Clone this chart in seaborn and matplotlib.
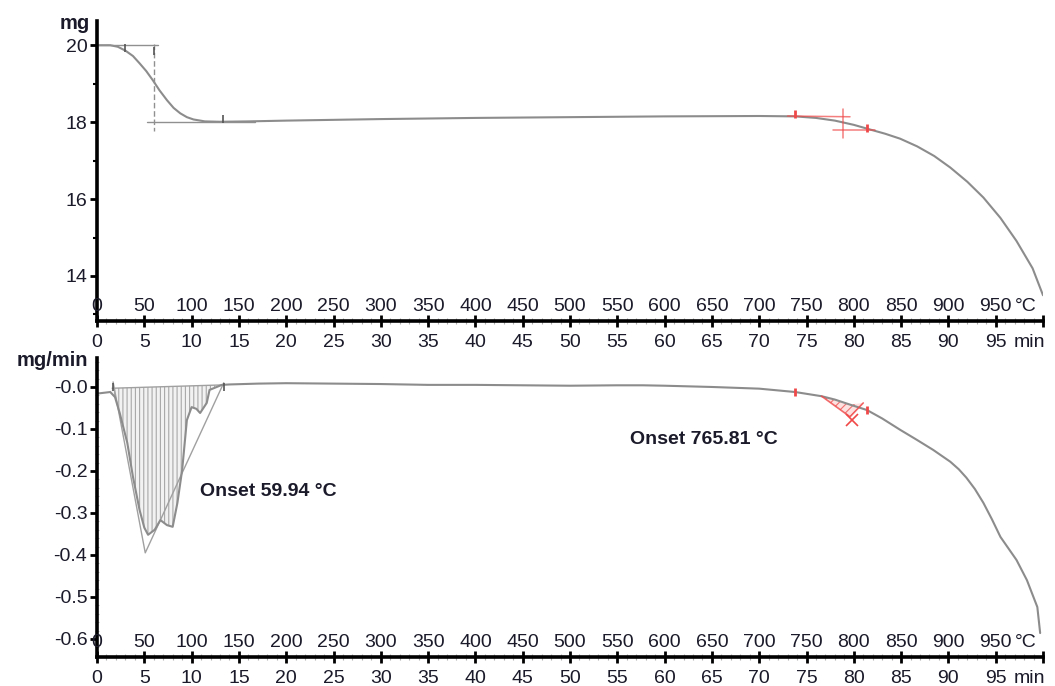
import numpy as np
import pandas as pd
import seaborn as sns
import matplotlib.pyplot as plt
from matplotlib.ticker import MultipleLocator

# TG curve (mg)
tg_time = [0, 1.4, 2.2, 3.0, 3.8, 4.5, 5.2, 5.9, 6.6, 7.4, 8.1, 8.8, 9.5, 10.2, 11.4, 13, 16, 20,
           30, 40, 50, 60, 70, 73.8, 76, 78, 80, 81.7, 83.3, 84.9, 86.7, 88.5, 90.2, 92, 93.7,
           95.5, 97.2, 98.9, 100]
tg_mass = [20.0, 20.0, 19.96, 19.86, 19.72, 19.53, 19.33, 19.09, 18.83, 18.57, 18.37, 18.23,
           18.13, 18.07, 18.02, 18.01, 18.02, 18.04, 18.08, 18.11, 18.13, 18.15, 18.16, 18.15,
           18.11, 18.04, 17.93, 17.81, 17.70, 17.57, 17.37, 17.12, 16.82, 16.45, 16.04, 15.51,
           14.91, 14.2, 13.5]

# DTG curve (mg/min)
dtg_time = [0, 0.3, 1.4, 1.9, 2.4, 3.2, 3.8, 4.5, 5.0, 5.4, 6.1, 6.7, 7.4, 8.0, 8.5, 9.0, 9.5,
            10.0, 10.5, 10.9, 11.6, 11.9, 13.2, 14, 17, 20, 25, 30, 35, 40, 45, 50, 55, 57.7,
            60, 65, 70, 73.8, 76.6, 78, 79.6, 81.4, 83, 84.9, 86.6, 88.4, 90.2, 91.1, 91.9,
            92.8, 93.7, 94.6, 95.5, 97.2, 98.3, 99.4, 99.7]
dtg_rate = [-0.015, -0.015, -0.012, -0.024, -0.062, -0.133, -0.214, -0.293, -0.335, -0.352,
            -0.34, -0.317, -0.329, -0.333, -0.276, -0.198, -0.079, -0.048, -0.052, -0.062,
            -0.038, -0.007, 0.005, 0.006, 0.008, 0.009, 0.008, 0.007, 0.005, 0.005, 0.004,
            0.003, 0.004, 0.004, 0.003, 0.0, -0.004, -0.012, -0.022, -0.03, -0.042, -0.055,
            -0.075, -0.102, -0.125, -0.15, -0.178, -0.196, -0.216, -0.243, -0.276, -0.315,
            -0.357, -0.412, -0.46, -0.524, -0.586]

time_ticks = list(range(0, 100, 5))
temp_labels = [str(t * 10) for t in time_ticks]
tg_ticks = [14, 16, 18, 20]
dtg_ticks = [-0.6, -0.5, -0.4, -0.3, -0.2, -0.1, 0.0]
dtg_ticklabels = ["-0.6", "-0.5", "-0.4", "-0.3", "-0.2", "-0.1", "-0.0"]

# evaluation marks
tg_step_t = [0, 6.4]
tg_step_v = [20.0, 20.0]
tg_mid_t = [6.0, 6.0]
tg_mid_v = [20.02, 17.78]
tg_end_t = [5.3, 16.7]
tg_end_v = [18.0, 18.0]
tg_marks_t = [3.0, 6.0, 13.3]
tg_marks_v = [19.93, 19.85, 18.08]

tg_red_a_t = [73.0, 79.6]
tg_red_a_v = [18.16, 18.14]
tg_red_b_t = [77.8, 82.2]
tg_red_b_v = [17.8, 17.8]
tg_red_c_t = [78.9, 78.9]
tg_red_c_v = [18.35, 17.6]
tg_red_marks_t = [73.8, 81.4]
tg_red_marks_v = [18.2, 17.86]

peak1_base_t = [1.6, 13.4]
peak1_base_v = [-0.003, 0.005]
peak1_tan_t = [1.7, 5.1, 13.4]
peak1_tan_v = [0.012, -0.395, 0.01]
peak1_marks_t = [1.7, 13.4]
peak1_marks_v = [0.0, 0.0]

peak2_tan_t = [76.6, 79.6, 81.0]
peak2_tan_v = [-0.022, -0.071, -0.038]
peak2_cross = (79.8, -0.079)
peak2_marks_t = [73.8, 81.4]
peak2_marks_v = [-0.012, -0.055]

onset1 = (10.9, -0.25, "Onset 59.94 °C")
onset2 = (56.3, -0.126, "Onset 765.81 °C")

sns.set_theme(style="ticks")
plt.rcParams["font.family"] = ["Liberation Sans", "DejaVu Sans"]
plt.rcParams["hatch.linewidth"] = 0.8

txt = "#1a1a2a"
curve = "#8c8c8c"
red = "#f04848"

W, H = 1055, 686
fig = plt.figure(figsize=(W / 100, H / 100), dpi=100)
ax1 = fig.add_axes([97 / W, 1 - 321 / H, 946 / W, 300 / H])
ax2 = fig.add_axes([97 / W, 1 - 657 / H, 946 / W, 299 / H])


def style_axis(ax):
    for s in ["top", "right"]:
        ax.spines[s].set_visible(False)
    for s in ["left", "bottom"]:
        ax.spines[s].set_linewidth(2.6)
        ax.spines[s].set_color("black")
    ax.set_xlim(0, 100)
    ax.set_xticks(time_ticks + [100])
    ax.set_xticklabels([str(t) for t in time_ticks] + [""])
    ax.xaxis.set_minor_locator(MultipleLocator(1))
    ax.tick_params(axis="x", which="major", direction="inout", length=9, width=2,
                   color="black", pad=5, labelsize=14, labelcolor=txt)
    ax.tick_params(axis="x", which="minor", direction="inout", length=4, width=0.8,
                   color="#b0b0b0")
    ax.tick_params(axis="y", which="major", direction="out", length=5, width=2,
                   color="black", pad=2, labelsize=14, labelcolor=txt)
    ax.set_xlabel("")
    ax.set_ylabel("")
    for lab, t in zip(temp_labels, time_ticks):
        ax.annotate(lab, xy=(t, 0), xycoords=("data", "axes fraction"), xytext=(0, 7.2),
                    textcoords="offset points", ha="center", va="baseline",
                    fontsize=14, color=txt)
    ax.annotate("°C", xy=(97.0, 0), xycoords=("data", "axes fraction"), xytext=(0, 7.2),
                textcoords="offset points", ha="left", va="baseline", fontsize=14, color=txt)
    ax.annotate("min", xy=(96.9, 0), xycoords=("data", "axes fraction"), xytext=(0, -9.5),
                textcoords="offset points", ha="left", va="top", fontsize=14, color=txt)


# ---- TG panel
tg = pd.DataFrame({"t": tg_time, "m": tg_mass})
sns.lineplot(data=tg, x="t", y="m", ax=ax1, color=curve, lw=1.5, estimator=None, sort=False)
ax1.plot(tg_step_t, tg_step_v, color="#909090", lw=1)
ax1.plot(tg_mid_t, tg_mid_v, color="#909090", lw=1, ls=(0, (4, 2)))
ax1.plot(tg_end_t, tg_end_v, color="#909090", lw=1)
ax1.plot(tg_marks_t, tg_marks_v, ls="none", marker="|", ms=6, mew=1.2, color="#555555")
for xs, ys in [(tg_red_a_t, tg_red_a_v), (tg_red_b_t, tg_red_b_v), (tg_red_c_t, tg_red_c_v)]:
    ax1.plot(xs, ys, color=red, lw=1.1, alpha=0.7)
ax1.plot(tg_red_marks_t, tg_red_marks_v, ls="none", marker="|", ms=6, mew=2, color=red)
ax1.set_ylim(12.83, 20.63)
ax1.set_yticks(tg_ticks)
ax1.set_yticklabels([str(v) for v in tg_ticks])
ax1.yaxis.set_minor_locator(MultipleLocator(1))
ax1.tick_params(axis="y", which="minor", direction="out", length=3, width=1.5, color="black")
style_axis(ax1)
ax1.annotate("mg", xy=(0, 1), xycoords="axes fraction", xytext=(-5, -5.8),
             textcoords="offset points", ha="right", va="baseline", fontsize=14.5,
             fontweight="bold", color=txt)

# ---- DTG panel
dtg = pd.DataFrame({"t": dtg_time, "r": dtg_rate})
t_arr = np.array(dtg_time)
r_arr = np.array(dtg_rate)
sel = (t_arr >= 1.4) & (t_arr <= 13.2)
ax2.fill(list(t_arr[sel]) + peak1_base_t[::-1], list(r_arr[sel]) + peak1_base_v[::-1],
         facecolor="#f2f2f2", edgecolor="#a8a8a8", hatch="||||", lw=0)
sel2 = (t_arr >= 76.6) & (t_arr <= 79.6)
ax2.fill(list(t_arr[sel2]) + [peak2_tan_t[2], peak2_tan_t[1]],
         list(r_arr[sel2]) + [peak2_tan_v[2], peak2_tan_v[1]],
         facecolor="#fde0e0", edgecolor="#f07070", hatch="////", lw=0)
ax2.plot(peak1_base_t, peak1_base_v, color="#a0a0a0", lw=1)
ax2.plot(peak1_tan_t, peak1_tan_v, color="#a0a0a0", lw=1)
sns.lineplot(data=dtg, x="t", y="r", ax=ax2, color=curve, lw=1.5, estimator=None, sort=False)
ax2.plot(peak1_marks_t, peak1_marks_v, ls="none", marker="|", ms=6, mew=1.2, color="#555555")
ax2.plot(peak2_tan_t, peak2_tan_v, color=red, lw=1.2, alpha=0.8)
ax2.plot([peak2_cross[0]], [peak2_cross[1]], ls="none", marker="x", ms=8, mew=1.2, color=red)
ax2.plot(peak2_marks_t, peak2_marks_v, ls="none", marker="|", ms=6, mew=2, color=red)
for x, y, s in [onset1, onset2]:
    ax2.text(x, y, s, ha="left", va="center", fontsize=14, fontweight="bold", color=txt)
ax2.set_ylim(-0.643, 0.069)
ax2.set_yticks(dtg_ticks)
ax2.set_yticklabels(dtg_ticklabels)
ax2.yaxis.set_minor_locator(MultipleLocator(0.02))
ax2.tick_params(axis="y", which="minor", direction="inout", length=3, width=0.8,
                color="#b8b8b8")
style_axis(ax2)
ax2.annotate("mg/min", xy=(0, 1), xycoords="axes fraction", xytext=(-6.5, -5.8),
             textcoords="offset points", ha="right", va="baseline", fontsize=14.5,
             fontweight="bold", color=txt)

fig.savefig("out.png", dpi=100, facecolor="white")
